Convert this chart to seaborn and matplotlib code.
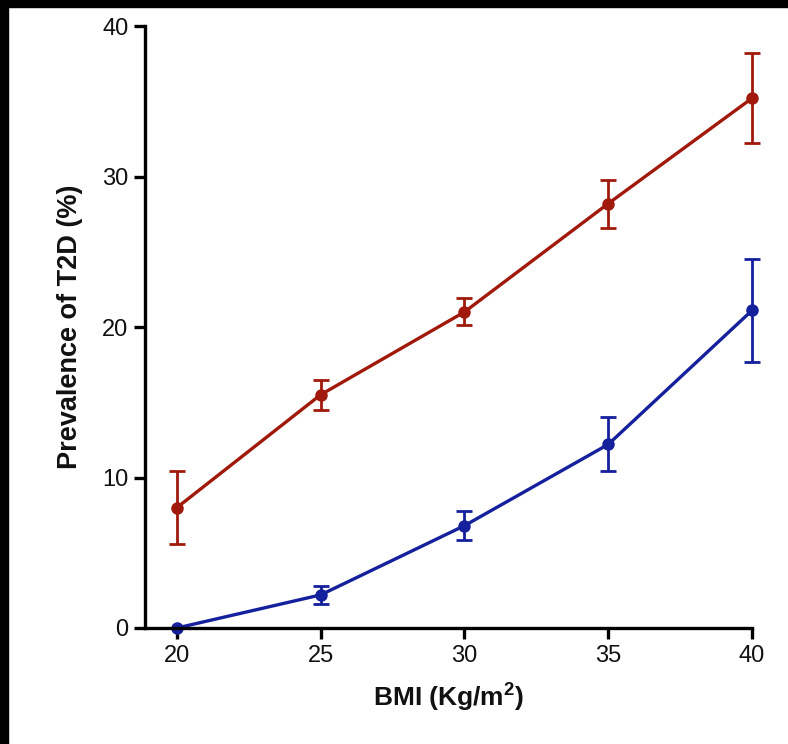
import matplotlib
matplotlib.use("Agg")
import matplotlib.pyplot as plt
import seaborn as sns
import pandas as pd
from matplotlib.patches import Rectangle

# Data
bmi = [20, 25, 30, 35, 40]
red_vals = [8.0, 15.5, 21.0, 28.2, 35.2]
red_err = [2.45, 1.0, 0.9, 1.6, 3.0]
blue_vals = [0.0, 2.2, 6.8, 12.2, 21.1]
blue_err = [0.0, 0.6, 0.95, 1.8, 3.4]
x_ticks = [20, 25, 30, 35, 40]
y_ticks = [0, 10, 20, 30, 40]

red_c = "#A0190B"
blue_c = "#14209C"

sns.set_theme(style="ticks")
plt.rcParams['font.family'] = ['Liberation Sans', 'DejaVu Sans']
plt.rcParams['mathtext.fontset'] = 'custom'
plt.rcParams['mathtext.rm'] = 'Liberation Sans'
plt.rcParams['mathtext.bf'] = 'Liberation Sans:bold'

df = pd.DataFrame({
    "bmi": bmi + bmi,
    "prev": red_vals + blue_vals,
    "group": ["red"] * len(bmi) + ["blue"] * len(bmi),
})

fig = plt.figure(figsize=(7.88, 7.44), dpi=100)
ax = fig.add_axes([145 / 788, 1 - 628 / 744, (752 - 145) / 788, (628 - 26) / 744])

sns.lineplot(data=df, x="bmi", y="prev", hue="group",
             palette={"red": red_c, "blue": blue_c},
             marker="o", markersize=9, markeredgewidth=0,
             linewidth=2.4, legend=False, ax=ax, errorbar=None)

ax.errorbar(bmi, red_vals, yerr=red_err, fmt="none", ecolor=red_c,
            elinewidth=2.0, capsize=6, capthick=2.0, zorder=1)
ax.errorbar(bmi[1:], blue_vals[1:], yerr=blue_err[1:], fmt="none", ecolor=blue_c,
            elinewidth=2.0, capsize=6, capthick=2.0, zorder=1)

ax.set_xlim(18.89, 40)
ax.set_ylim(0, 40)
ax.set_xticks(x_ticks)
ax.set_yticks(y_ticks)
ax.tick_params(axis="both", length=8, width=2.4, labelsize=17, color="black",
               labelcolor="#111111", pad=4)
for side in ["top", "right"]:
    ax.spines[side].set_visible(False)
for side in ["left", "bottom"]:
    ax.spines[side].set_linewidth(2.4)
    ax.spines[side].set_color("black")
    ax.spines[side].set_capstyle("projecting")

ax.set_xlabel("BMI (Kg/m$^{\\mathbf{2}}$)", fontsize=19, fontweight="bold", labelpad=10,
              color="#111111")
ax.set_ylabel("Prevalence of T2D (%)", fontsize=19.5, fontweight="bold", labelpad=14,
              color="#111111")
for sp in ax.spines.values():
    sp.set_zorder(5)
for coll in ax.lines:
    coll.set_clip_on(False)
for c in ax.collections:
    c.set_clip_on(False)

# black frame strips at top and left of the image
fig.patches.append(Rectangle((0, 1 - 7 / 744), 1, 7 / 744, transform=fig.transFigure,
                             color="black", zorder=0))
fig.patches.append(Rectangle((0, 0), 8 / 788, 1, transform=fig.transFigure,
                             color="black", zorder=0))

fig.savefig("out.png", dpi=100)
